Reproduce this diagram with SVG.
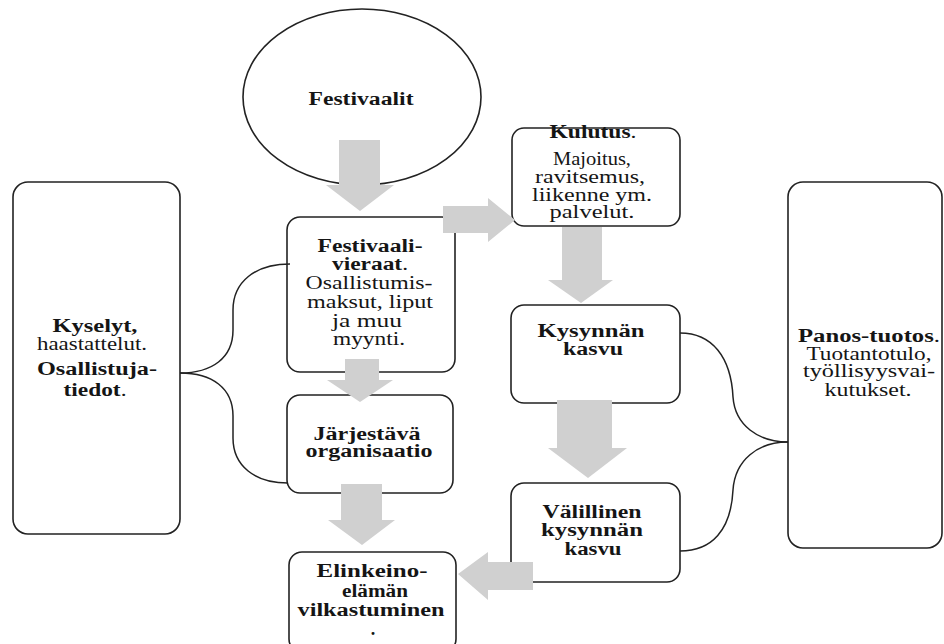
<svg xmlns="http://www.w3.org/2000/svg" width="944" height="644" viewBox="0 0 944 644">
<style>
.box{fill:#fff;stroke:#222;stroke-width:1.6}
.con{fill:none;stroke:#222;stroke-width:1.5}
.arr{fill:#d0d0d0;stroke:none}
text{font-family:"Liberation Serif","Times New Roman",serif;font-size:18px;fill:#151515;text-anchor:middle}
.b{font-weight:bold}
.r{font-weight:normal}
</style>
<rect width="944" height="644" fill="#fff"/>
<g id="festivaalit">
<ellipse class="box" cx="362" cy="97" rx="119" ry="88"/>
<text class="b" x="361" y="105" textLength="105" lengthAdjust="spacingAndGlyphs">Festivaalit</text>
</g>
<g id="kyselyt">
<rect class="box" x="13" y="182" width="167" height="352" rx="15"/>
<text class="b" x="95" y="332" textLength="85" lengthAdjust="spacingAndGlyphs">Kyselyt,</text>
<text x="92" y="350" textLength="110" lengthAdjust="spacingAndGlyphs">haastattelut.</text>
<text class="b" x="97" y="375" textLength="120" lengthAdjust="spacingAndGlyphs">Osallistuja-</text>
<text x="95" y="396" textLength="63" lengthAdjust="spacingAndGlyphs"><tspan class="b">tiedot</tspan>.</text>
</g>
<g id="festivaalivieraat">
<rect class="box" x="287" y="217" width="168" height="155" rx="13"/>
<text class="b" x="370" y="252" textLength="105" lengthAdjust="spacingAndGlyphs">Festivaali-</text>
<text x="370" y="270" textLength="76" lengthAdjust="spacingAndGlyphs"><tspan class="b">vieraat</tspan>.</text>
<text x="369" y="289" textLength="127" lengthAdjust="spacingAndGlyphs">Osallistumis-</text>
<text x="370" y="308" textLength="126" lengthAdjust="spacingAndGlyphs">maksut, liput</text>
<text x="367" y="327" textLength="70" lengthAdjust="spacingAndGlyphs">ja muu</text>
<text x="369" y="345" textLength="72" lengthAdjust="spacingAndGlyphs">myynti.</text>
</g>
<g id="kulutus">
<rect class="box" x="512" y="128" width="168" height="98" rx="12"/>
<text x="593" y="138" textLength="87" lengthAdjust="spacingAndGlyphs"><tspan class="b">Kulutus</tspan>.</text>
<text x="592" y="165" textLength="78" lengthAdjust="spacingAndGlyphs">Majoitus,</text>
<text x="590" y="183" textLength="110" lengthAdjust="spacingAndGlyphs">ravitsemus,</text>
<text x="592" y="201" textLength="120" lengthAdjust="spacingAndGlyphs">liikenne ym.</text>
<text x="592" y="218" textLength="85" lengthAdjust="spacingAndGlyphs">palvelut.</text>
</g>
<g id="jarjestava">
<rect class="box" x="287" y="395" width="166" height="98" rx="13"/>
<text class="b" x="367" y="440" textLength="107" lengthAdjust="spacingAndGlyphs">Järjestävä</text>
<text class="b" x="369" y="457" textLength="127" lengthAdjust="spacingAndGlyphs">organisaatio</text>
</g>
<g id="kysynnan">
<rect class="box" x="511" y="305" width="169" height="98" rx="13"/>
<text class="b" x="591" y="337" textLength="107" lengthAdjust="spacingAndGlyphs">Kysynnän</text>
<text class="b" x="593" y="355" textLength="60" lengthAdjust="spacingAndGlyphs">kasvu</text>
</g>
<g id="valillinen">
<rect class="box" x="511" y="483" width="169" height="99" rx="13"/>
<text class="b" x="592" y="518" textLength="99" lengthAdjust="spacingAndGlyphs">Välillinen</text>
<text class="b" x="592" y="536" textLength="102" lengthAdjust="spacingAndGlyphs">kysynnän</text>
<text class="b" x="593" y="555" textLength="57" lengthAdjust="spacingAndGlyphs">kasvu</text>
</g>
<g id="elinkeino">
<rect class="box" x="289" y="552" width="167" height="100" rx="13"/>
<text class="b" x="372" y="577" textLength="111" lengthAdjust="spacingAndGlyphs">Elinkeino-</text>
<text class="b" x="375" y="597" textLength="66" lengthAdjust="spacingAndGlyphs">elämän</text>
<text class="b" x="371" y="616" textLength="147" lengthAdjust="spacingAndGlyphs">vilkastuminen</text>
<text class="b" x="373" y="635">.</text>
</g>
<g id="panos">
<rect class="box" x="788" y="182" width="154" height="366" rx="15"/>
<text x="869" y="342" textLength="142" lengthAdjust="spacingAndGlyphs"><tspan class="b">Panos-tuotos</tspan>.</text>
<text x="869" y="360" textLength="125" lengthAdjust="spacingAndGlyphs">Tuotantotulo,</text>
<text x="869" y="377" textLength="132" lengthAdjust="spacingAndGlyphs">työllisyysvai-</text>
<text x="868" y="396" textLength="87" lengthAdjust="spacingAndGlyphs">kutukset.</text>
</g>
<g id="connectors">
<path class="con" d="M180,373 C212,373 233,358 233,330 L233,310 C233,282 255,264 290,264"/>
<path class="con" d="M180,373 C212,373 233,388 233,416 L233,438 C233,466 255,483 288,483"/>
<path class="con" d="M788,442 C758,442 735,425 733,397 C731,357 712,333 680,333"/>
<path class="con" d="M788,442 C758,442 735,460 733,490 C731,530 712,551 680,551"/>
<polygon class="arr" points="339,140 380,140 380,185 394,185 360,211 326,185 339,185"/>
<polygon class="arr" points="443,206 488,206 488,198 515,220 488,242 488,233 443,233"/>
<polygon class="arr" points="345,359 379,359 379,380 393,380 360,402 327,380 345,380"/>
<polygon class="arr" points="341,484 382,484 382,520 395,520 362,545 328,520 341,520"/>
<polygon class="arr" points="562,227 602,227 602,280 613,280 581,303 548,280 562,280"/>
<polygon class="arr" points="557,400 612,400 612,448 627,448 588,478 548,448 557,448"/>
<polygon class="arr" points="533,562 488,562 488,552 458,574 488,600 488,590 533,590"/>
</g>
</svg>
